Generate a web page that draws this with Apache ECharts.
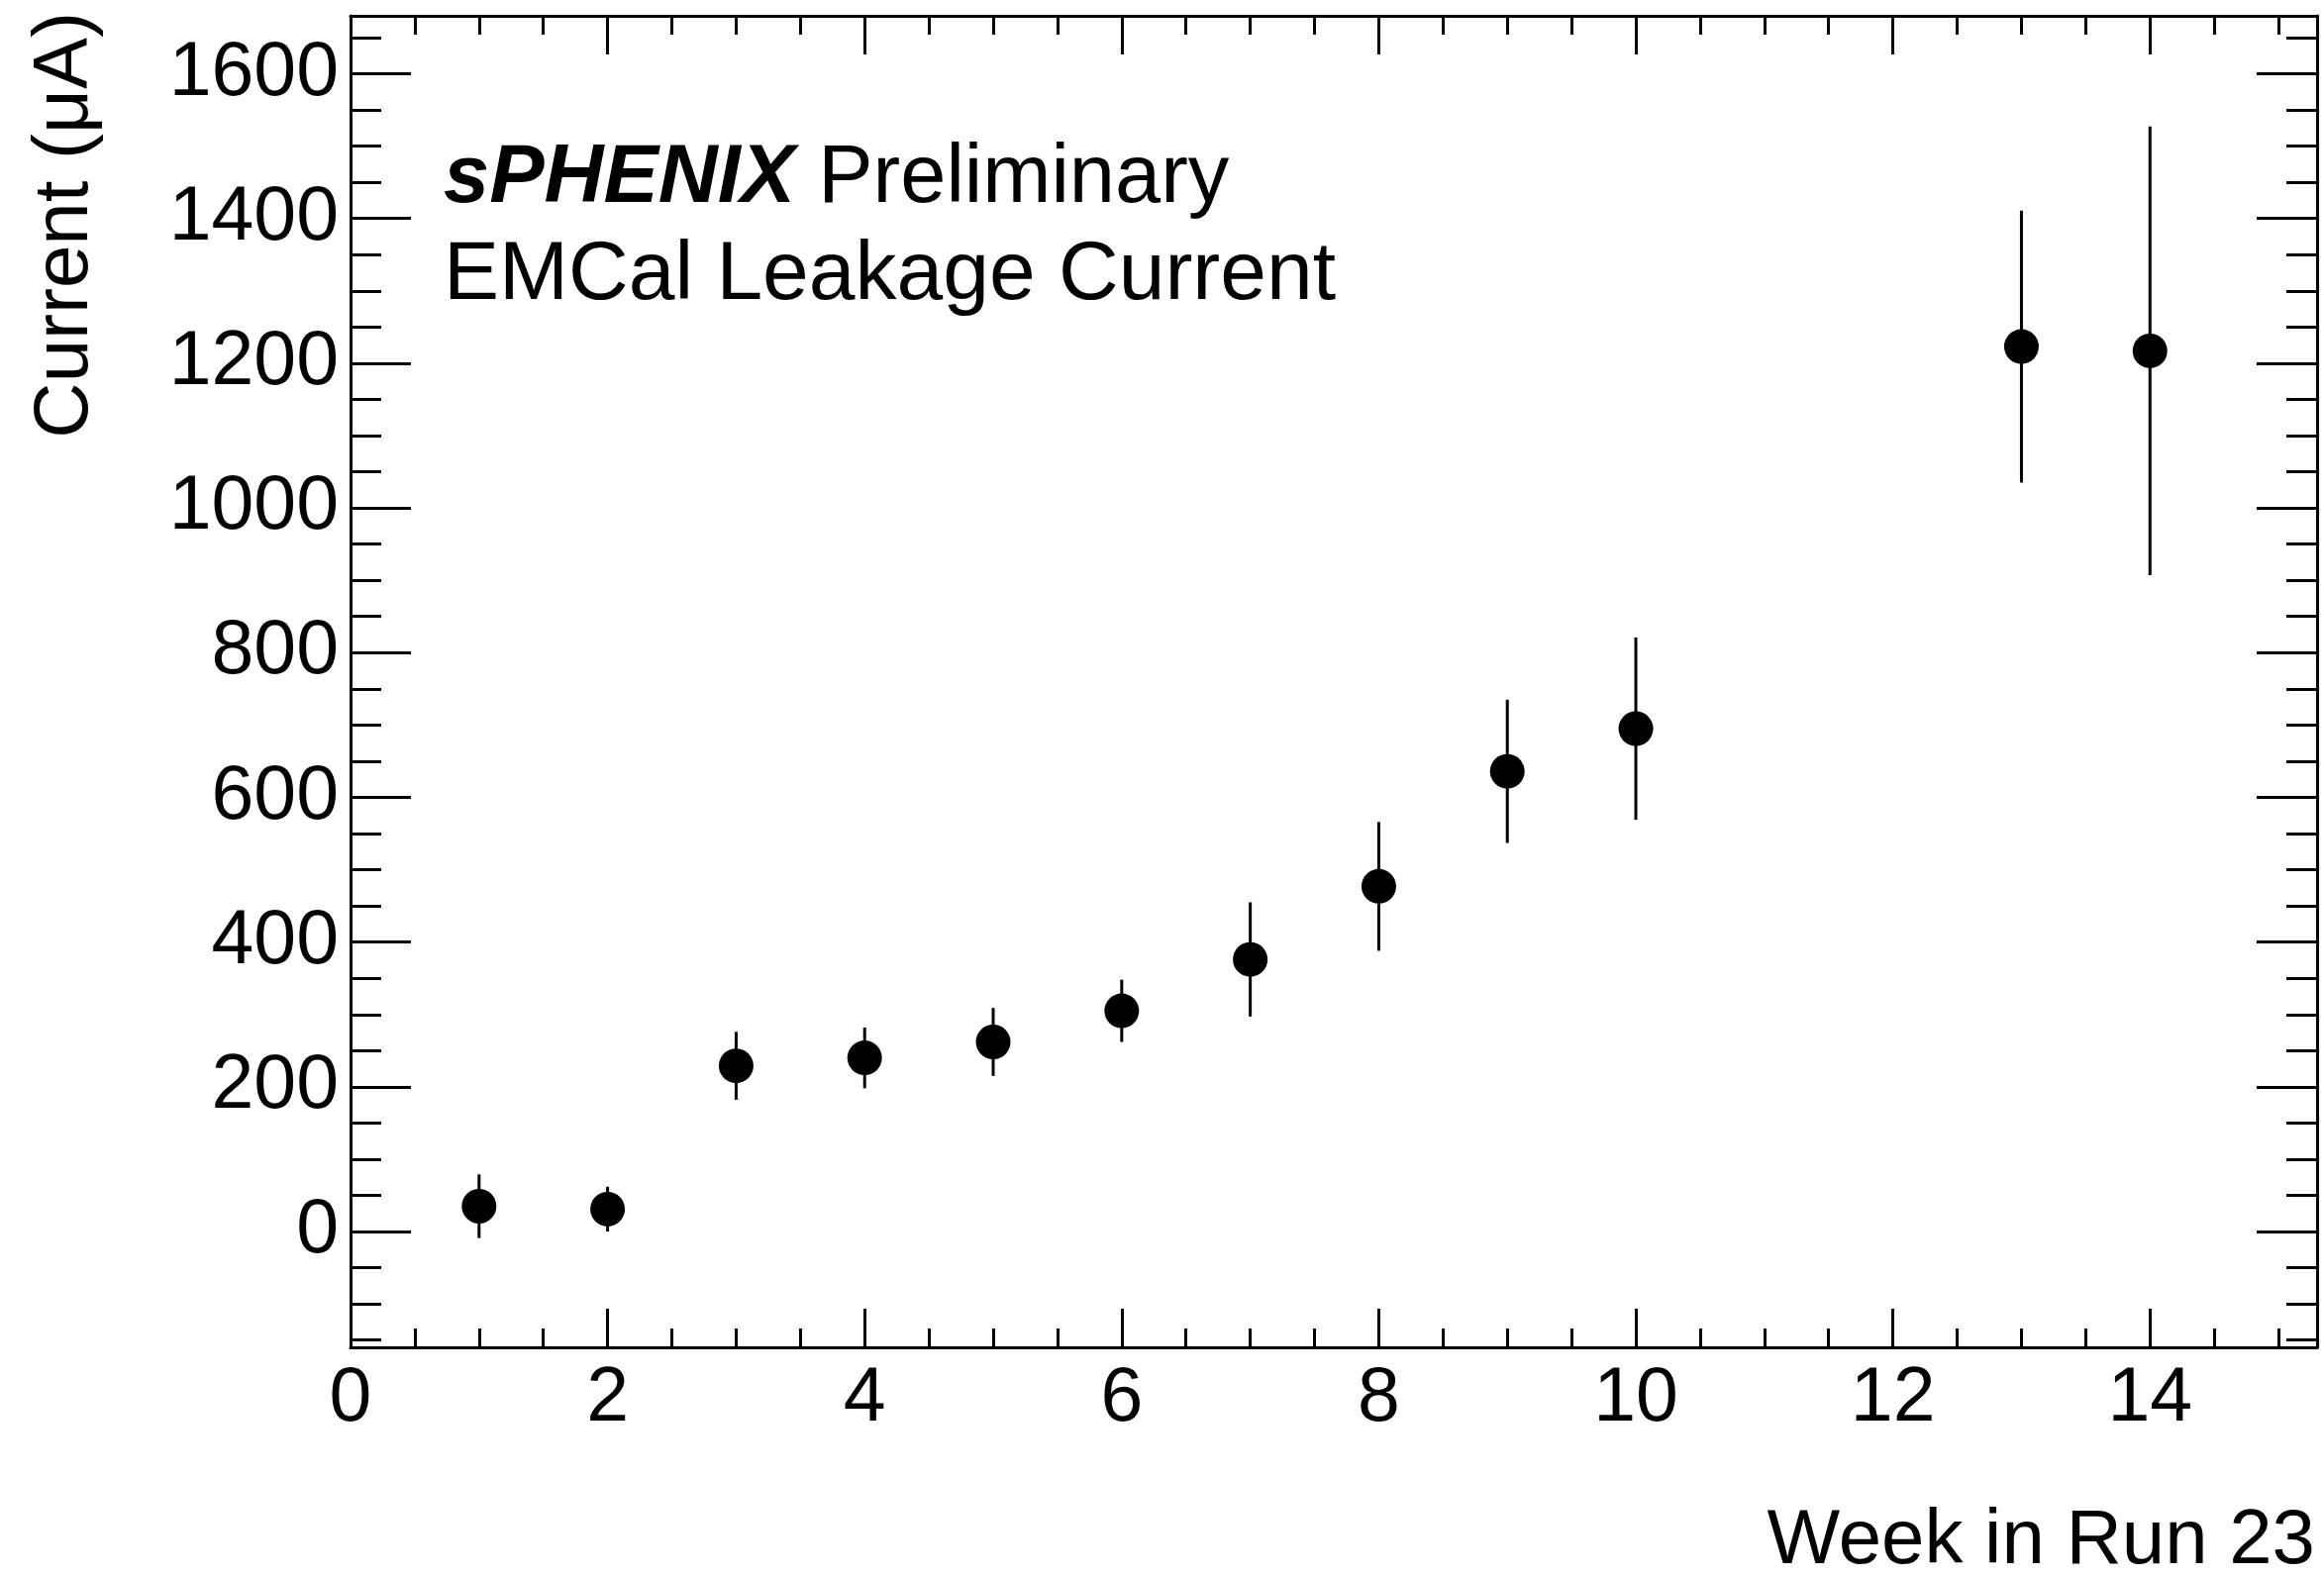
<!DOCTYPE html>
<html>
<head>
<meta charset="utf-8">
<title>EMCal Leakage Current</title>
<script src="https://cdn.jsdelivr.net/npm/echarts@6/dist/echarts.min.js"></script>
<style>
  html, body { margin: 0; padding: 0; background: #fff; }
  #chart { width: 2347px; height: 1592px; }
</style>
</head>
<body>
<div id="chart"></div>
<script>
// Weekly EMCal leakage current with uncertainties
const weeks    = [1, 2, 3, 4, 5, 6, 7, 8, 9, 10, 13, 14];
const currents = [35, 31, 229, 240, 262, 305, 376, 477, 636, 695, 1223, 1217];
const errors   = [44, 31, 47, 42, 47, 43, 79, 89, 99, 126, 188, 310];

// Axis tick positions
const xMajorTicks = [0, 2, 4, 6, 8, 10, 12, 14];
const xMinorTicks = [0.5, 1, 1.5, 2.5, 3, 3.5, 4.5, 5, 5.5, 6.5, 7, 7.5, 8.5, 9, 9.5, 10.5, 11, 11.5, 12.5, 13, 13.5, 14.5, 15];
const yMajorTicks = [0, 200, 400, 600, 800, 1000, 1200, 1400, 1600];
const yMinorTicks = [-150, -100, -50, 50, 100, 150, 250, 300, 350, 450, 500, 550, 650, 700, 750, 850, 900, 950,
                     1050, 1100, 1150, 1250, 1300, 1350, 1450, 1500, 1550, 1650];

const FONT = '"Liberation Sans", Arial, Helvetica, sans-serif';
const X_MIN = 0, X_MAX = 15.3, Y_MIN = -160, Y_MAX = 1680;

const points = weeks.map((w, i) => [w, currents[i]]);
const bars = weeks.map((w, i) => [w, currents[i] - errors[i], currents[i] + errors[i]]);

const plainNumber = v => String(v);

function xAxisDef(position, ticks, len, withLine, withLabels) {
  return {
    type: 'value', position: position, min: X_MIN, max: X_MAX,
    axisLine: { show: withLine, onZero: false, lineStyle: { color: '#000', width: 3 } },
    axisTick: { show: true, inside: true, length: len, customValues: ticks, lineStyle: { color: '#000', width: 3 } },
    axisLabel: withLabels
      ? { show: true, customValues: ticks, formatter: plainNumber, color: '#000', fontSize: 77, fontFamily: FONT, margin: 14 }
      : { show: false },
    splitLine: { show: false }, minorTick: { show: false }
  };
}
function yAxisDef(position, ticks, len, withLine, withLabels) {
  return {
    type: 'value', position: position, min: Y_MIN, max: Y_MAX,
    axisLine: { show: withLine, onZero: false, lineStyle: { color: '#000', width: 3 } },
    axisTick: { show: true, inside: true, length: len, customValues: ticks, lineStyle: { color: '#000', width: 3 } },
    axisLabel: withLabels
      ? { show: true, customValues: ticks, formatter: plainNumber, color: '#000', fontSize: 77, fontFamily: FONT, margin: 12 }
      : { show: false },
    splitLine: { show: false }, minorTick: { show: false }
  };
}

const chart = echarts.init(document.getElementById('chart'), null, { renderer: 'canvas' });
chart.setOption({
  animation: false,
  backgroundColor: '#fff',
  grid: { left: 354, top: 16, width: 1986, height: 1345, containLabel: false, outerBoundsMode: 'none' },
  xAxis: [
    xAxisDef('bottom', xMajorTicks, 39, true, true),
    xAxisDef('bottom', xMinorTicks, 19, false, false),
    xAxisDef('top', xMajorTicks, 39, true, false),
    xAxisDef('top', xMinorTicks, 19, false, false)
  ],
  yAxis: [
    yAxisDef('left', yMajorTicks, 61, true, true),
    yAxisDef('left', yMinorTicks, 31, false, false),
    yAxisDef('right', yMajorTicks, 61, true, false),
    yAxisDef('right', yMinorTicks, 31, false, false)
  ],
  series: [
    {
      type: 'custom',
      xAxisIndex: 0, yAxisIndex: 0,
      data: bars,
      encode: { x: 0, y: [1, 2] },
      renderItem: function (params, api) {
        const lo = api.coord([api.value(0), api.value(1)]);
        const hi = api.coord([api.value(0), api.value(2)]);
        return {
          type: 'line',
          shape: { x1: lo[0], y1: lo[1], x2: hi[0], y2: hi[1] },
          style: { stroke: '#000', lineWidth: 3 }
        };
      },
      z: 2
    },
    {
      type: 'scatter',
      xAxisIndex: 0, yAxisIndex: 0,
      data: points,
      symbol: 'circle',
      symbolSize: 35,
      itemStyle: { color: '#000', opacity: 1 },
      z: 3
    }
  ],
  graphic: [
    {
      type: 'text', x: 448, y: 181,
      style: {
        text: '{b|sPHENIX} Preliminary',
        font: '83px ' + FONT, fill: '#000',
        verticalAlign: 'middle', align: 'left',
        rich: { b: { fontSize: 83, fontFamily: FONT, fontWeight: 'bold', fontStyle: 'italic', fill: '#000' } }
      }
    },
    {
      type: 'text', x: 448, y: 279,
      style: { text: 'EMCal Leakage Current', font: '84px ' + FONT, fill: '#000', verticalAlign: 'middle', align: 'left' }
    },
    {
      type: 'text', x: 2338, y: 1557,
      style: { text: 'Week in Run 23', font: '78px ' + FONT, fill: '#000', verticalAlign: 'middle', align: 'right' }
    },
    {
      type: 'text', x: 66, y: 12, rotation: Math.PI / 2,
      style: { text: 'Current (μA)', font: '78px ' + FONT, fill: '#000', verticalAlign: 'middle', align: 'right' }
    }
  ]
});
</script>
</body>
</html>
